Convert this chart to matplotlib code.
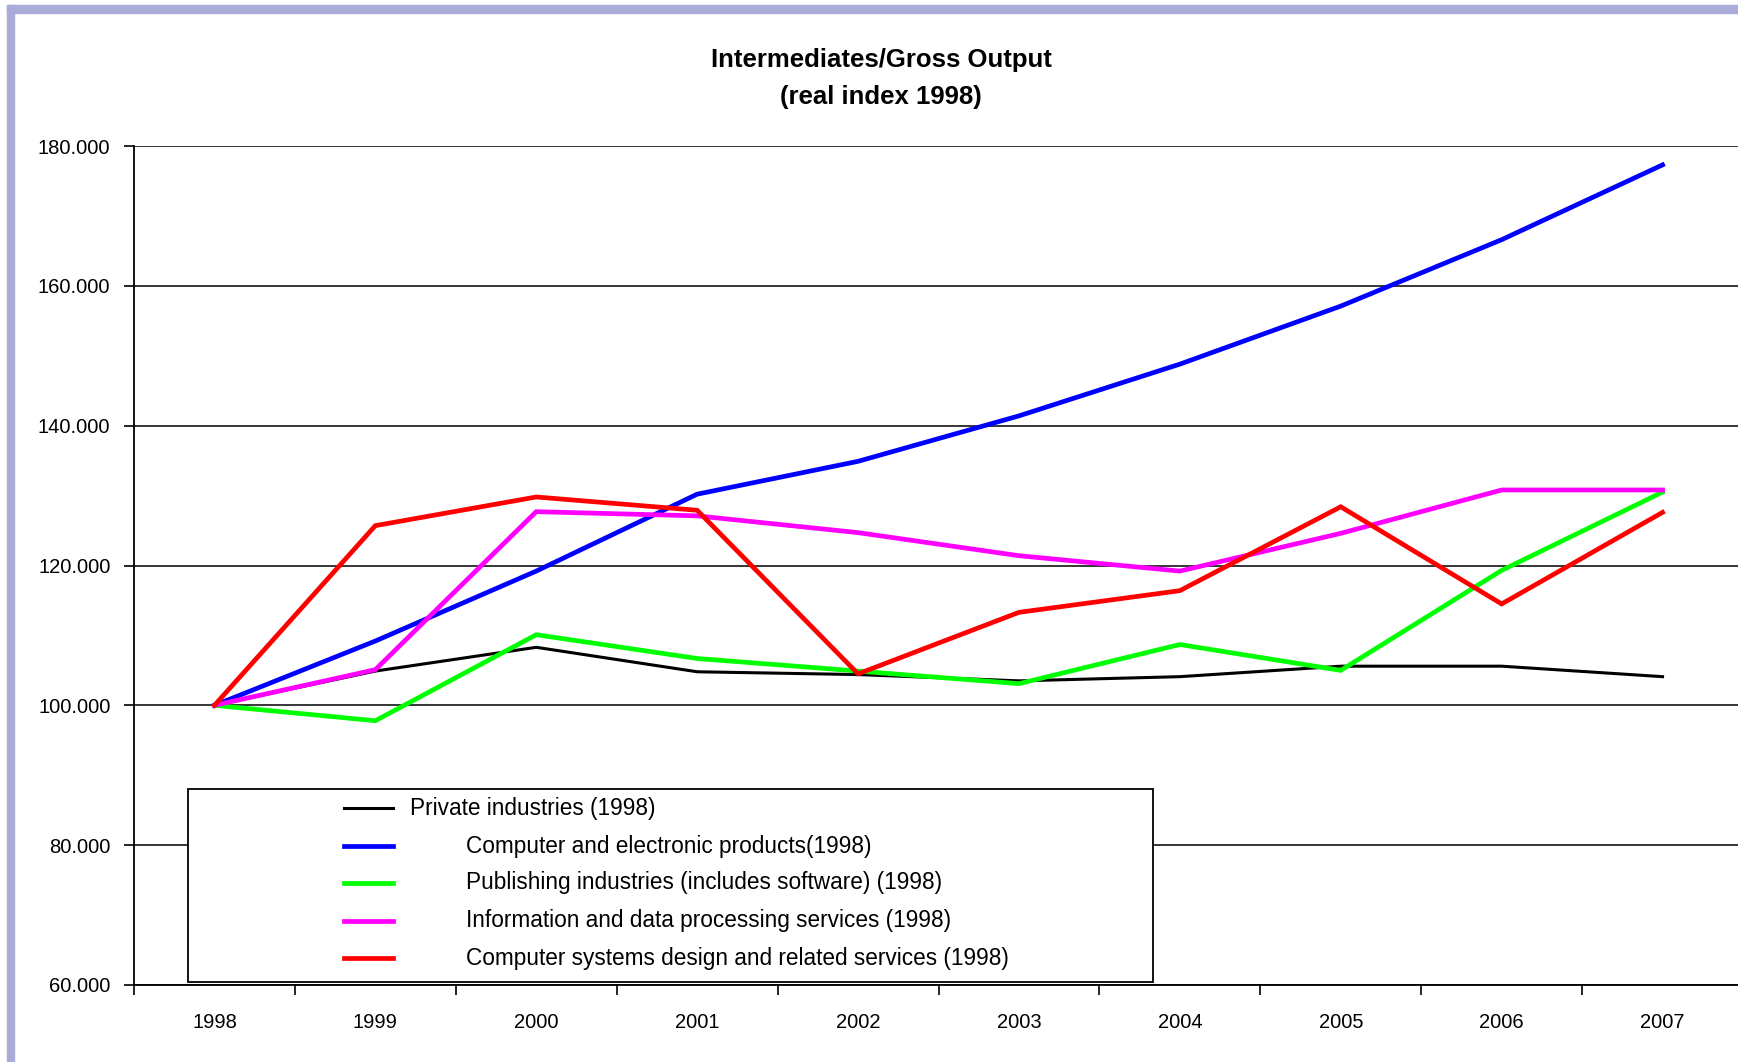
import matplotlib
matplotlib.use("Agg")
import matplotlib.pyplot as plt
from matplotlib.patches import Rectangle
from matplotlib.lines import Line2D

# Intermediates/Gross Output, real index 1998 = 100
years = ['1998', '1999', '2000', '2001', '2002', '2003', '2004', '2005', '2006', '2007']

private = [100.0, 104.9, 108.3, 104.8, 104.4, 103.5, 104.1, 105.6, 105.6, 104.1]
computer = [100.0, 109.2, 119.2, 130.2, 134.9, 141.4, 148.8, 157.1, 166.6, 177.3]
publishing = [100.0, 97.8, 110.1, 106.7, 104.9, 103.1, 108.7, 105.0, 119.3, 130.5]
info_data = [100.0, 105.1, 127.7, 127.1, 124.7, 121.4, 119.2, 124.6, 130.8, 130.8]
sys_design = [100.0, 125.7, 129.8, 127.9, 104.5, 113.3, 116.4, 128.4, 114.5, 127.6]

labels = ['Private industries (1998)',
          'Computer and electronic products(1998)',
          'Publishing industries (includes software) (1998)',
          'Information and data processing services (1998)',
          'Computer systems design and related services (1998)']
colors = ['#000000', '#0000FF', '#00FF00', '#FF00FF', '#FF0000']
widths = [2.2, 3.4, 3.4, 3.4, 3.4]

plt.rcParams['font.family'] = ['Liberation Sans', 'DejaVu Sans']

W, H = 1738, 1062
fig = plt.figure(figsize=(W / 100, H / 100), dpi=100)

def fx(px):
    return px / W

def fy(py):
    return 1 - py / H

# purple frame (left and top only, rest is cut off)
fig.patches.append(Rectangle((fx(7), 0), fx(7), fy(5), transform=fig.transFigure,
                             color='#A9ABD9', zorder=0))
fig.patches.append(Rectangle((fx(7), fy(13)), 1, 8 / H, transform=fig.transFigure,
                             color='#A9ABD9', zorder=0))

ax = fig.add_axes([fx(134), fy(985), (1743 - 134) / W, (985 - 146) / H])

x = list(range(len(years)))
series = [private, computer, publishing, info_data, sys_design]
for s, c, lw in zip(series, colors, widths):
    ax.plot(x, s, color=c, lw=lw, solid_joinstyle='miter', zorder=3)

ax.set_xlim(-0.5, len(years) - 0.5)
ax.set_ylim(60, 180)
ax.set_yticks(range(60, 181, 20))
ax.set_yticklabels(['%.3f' % v for v in range(60, 181, 20)], fontsize=14.5)
ax.set_xticks(x)
ax.set_xticklabels(years, fontsize=14.5)
ax.set_xticks([i - 0.5 for i in range(len(years) + 1)], minor=True)
ax.tick_params(axis='x', which='major', length=0, pad=20.5)
ax.tick_params(axis='x', which='minor', length=7, width=1.2, direction='out')
ax.tick_params(axis='y', length=7, width=1.2, pad=10)
ax.grid(axis='y', color='black', lw=1.1)
ax.set_axisbelow(True)
for side in ['top', 'right']:
    ax.spines[side].set_visible(False)
for side in ['left', 'bottom']:
    ax.spines[side].set_linewidth(1.3)

fig.text(fx(881), fy(60), 'Intermediates/Gross Output', ha='center', va='center',
         fontsize=18.5, fontweight='bold')
fig.text(fx(881), fy(97), '(real index 1998)', ha='center', va='center',
         fontsize=18.5, fontweight='bold')

# legend box drawn by hand to match the wide, offset layout
ax.add_patch(Rectangle((fx(188), fy(982)), (1153 - 188) / W, (982 - 789) / H,
                       transform=fig.transFigure, facecolor='white', edgecolor='black',
                       lw=1.3, clip_on=False, zorder=5))
rows = [808, 846, 883, 921, 958]
text_x = [410, 466, 466, 466, 466]
for lab, c, lw, ry, tx in zip(labels, colors, widths, rows, text_x):
    ax.add_line(Line2D([fx(344), fx(393)], [fy(ry), fy(ry)], color=c, lw=lw,
                       transform=fig.transFigure, clip_on=False, zorder=6))
    fig.text(fx(tx), fy(ry), lab, ha='left', va='center', fontsize=16.3, zorder=7)

fig.savefig('out.png', dpi=100, facecolor='white')
